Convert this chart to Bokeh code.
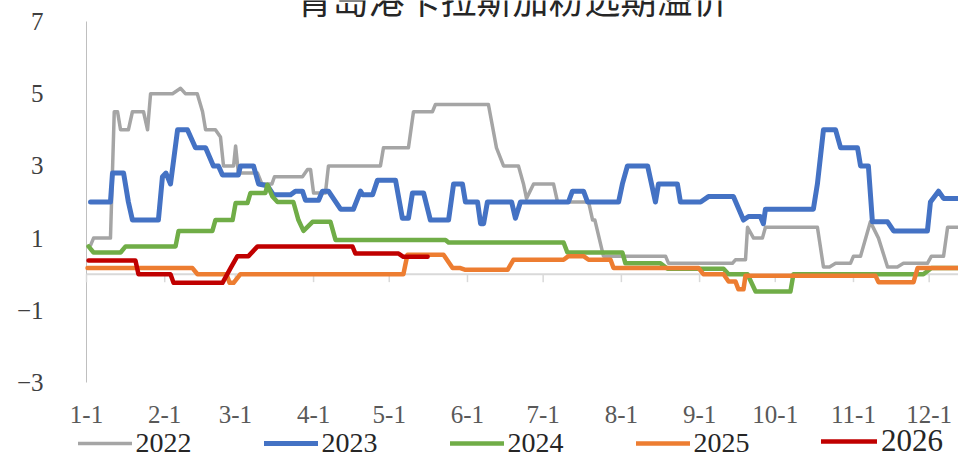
from bokeh.plotting import figure
from bokeh.models import (Range1d, FixedTicker, Legend, LegendItem, Label)
from bokeh.embed import file_html
from bokeh.resources import INLINE

title_text = "青岛港卡拉斯加粉远期溢价"
series_names = ["2022", "2023", "2024", "2025", "2026"]
month_days = [0, 31, 59, 90, 120, 151, 181, 212, 243, 273, 304, 334]
month_labels = ["1-1", "2-1", "3-1", "4-1", "5-1", "6-1", "7-1", "8-1", "9-1", "10-1", "11-1", "12-1"]
y_ticks = [-3, -1, 1, 3, 5, 7]

d22 = [1.6, 2.8, 9.5, 11.0, 12.3, 13.5, 16.6, 18.2, 22.6, 24.2, 25.4, 34.1, 37.3, 39.2, 43.9, 46.0, 47.2, 51.1,
       53.1, 54.3, 58.3, 59.1, 60.2, 67.8, 69.5, 73.5, 74.5, 85.6, 87.6, 88.8, 90.0, 94.7, 95.9, 116.5, 117.7,
       127.6, 129.6, 137.1, 138.3, 159.3, 162.5, 165.3, 171.2, 173.2, 174.4, 177.2, 185.1, 186.7, 199.0, 200.6,
       201.5, 204.9, 229.5, 230.7, 256.0, 257.2, 261.2, 262.0, 264.4, 267.9, 269.1, 289.7, 292.1, 294.5, 296.9,
       302.8, 304.0, 306.8, 310.7, 313.9, 317.5, 321.4, 323.8, 333.3, 334.9, 339.7, 341.3, 345.6]
v22 = [0.8, 1.0, 1.0, 4.5, 4.5, 4.0, 4.0, 4.5, 4.5, 4.0, 5.0, 5.0, 5.15, 5.0, 5.0, 4.5, 4.0, 4.0,
       3.8, 3.0, 3.0, 3.55, 2.8, 2.8, 2.5, 2.5, 2.7, 2.7, 2.9, 2.9, 2.25, 2.25, 3.0, 3.0, 3.5,
       3.5, 4.5, 4.5, 4.7, 4.7, 3.5, 3.0, 3.0, 2.5, 2.1, 2.5, 2.5, 2.0, 2.0, 1.5,
       1.5, 0.5, 0.5, 0.3, 0.3, 0.4, 0.4, 1.3, 1.0, 1.0, 1.3, 1.3, 0.2, 0.2, 0.3,
       0.3, 0.5, 0.5, 1.45, 1.0, 0.2, 0.2, 0.3, 0.3, 0.5, 0.5, 1.3, 1.3]

d23 = [1.6, 9.5, 10.3, 14.7, 16.6, 18.2, 28.5, 30.1, 31.5, 33.3, 36.1, 40.0, 43.2, 47.2, 50.3, 52.3, 53.9, 60.2,
       61.0, 66.2, 68.2, 71.7, 74.1, 80.9, 82.8, 85.6, 86.8, 92.0, 93.5, 95.9, 100.7, 105.8, 108.6, 109.5, 113.4,
       115.3, 122.5, 125.2, 127.6, 129.2, 133.6, 136.3, 143.5, 145.5, 149.0, 150.2, 155.0, 156.2, 157.4, 158.9,
       168.5, 170.0, 172.0, 191.0, 192.6, 197.0, 198.6, 210.9, 212.4, 214.4, 222.4, 225.5, 226.7, 234.2, 235.4,
       243.4, 246.5, 256.4, 260.4, 262.4, 267.1, 268.3, 269.1, 288.1, 289.7, 292.1, 296.9, 298.9, 305.6, 306.8,
       309.9, 311.5, 317.5, 319.9, 333.3, 334.5, 337.7, 339.7, 345.6]
v23 = [2.0, 2.0, 2.8, 2.8, 2.0, 1.5, 1.5, 2.7, 2.8, 2.5, 4.0, 4.0, 3.5, 3.5, 3.0, 3.0, 2.75, 2.75,
       3.0, 3.0, 2.5, 2.45, 2.2, 2.2, 2.3, 2.3, 2.05, 2.05, 2.3, 2.3, 1.8, 1.8, 2.3, 2.2, 2.2,
       2.6, 2.6, 1.55, 1.55, 2.25, 2.25, 1.5, 1.5, 2.5, 2.5, 2.0, 2.0, 1.4, 1.4, 2.0,
       2.0, 1.55, 2.0, 2.0, 2.3, 2.3, 2.0, 2.0, 2.5, 3.0, 3.0, 2.0, 2.5, 2.5, 2.0,
       2.0, 2.15, 2.15, 1.5, 1.6, 1.6, 1.4, 1.8, 1.8, 2.5, 4.0, 4.0, 3.5, 3.5, 3.0,
       3.0, 1.45, 1.45, 1.2, 1.2, 2.0, 2.3, 2.1, 2.1]

d24 = [0.8, 2.8, 13.5, 15.5, 35.3, 36.5, 49.9, 51.1, 57.9, 59.1, 63.8, 65.0, 70.9, 71.7, 73.7, 75.7, 82.0, 84.0,
       86.0, 89.6, 96.7, 98.7, 142.3, 143.5, 189.1, 190.6, 212.4, 213.6, 227.5, 230.3, 252.5, 254.5, 262.0,
       265.2, 279.0, 280.2, 331.7, 334.9, 345.6]
v24 = [0.77, 0.6, 0.6, 0.77, 0.77, 1.2, 1.2, 1.5, 1.5, 1.97, 1.97, 2.25, 2.25, 2.48, 2.15, 2.0, 2.0, 1.5,
       1.2, 1.45, 1.45, 0.95, 0.95, 0.88, 0.88, 0.6, 0.6, 0.3, 0.3, 0.15, 0.15, 0.0, 0.0,
       -0.48, -0.48, 0.0, 0.0, 0.17, 0.17]

d25 = [0.4, 42.0, 44.0, 55.5, 56.7, 58.3, 61.0, 125.6, 127.2, 141.5, 145.1, 148.2, 150.2, 166.9, 169.2, 189.1,
       191.0, 197.0, 199.0, 207.7, 208.9, 242.6, 244.5, 252.5, 254.5, 257.2, 258.4, 260.4, 261.2, 312.7, 313.9,
       327.8, 329.4, 345.6]
v25 = [0.17, 0.17, 0.0, 0.0, -0.24, -0.24, 0.0, 0.0, 0.54, 0.54, 0.17, 0.17, 0.12, 0.12, 0.4, 0.4,
       0.5, 0.5, 0.4, 0.4, 0.17, 0.17, 0.0, 0.0, -0.2, -0.2, -0.42, -0.42, -0.04, -0.04, -0.22,
       -0.22, 0.17, 0.17]

d26 = [0.8, 19.4, 20.6, 33.3, 34.5, 53.9, 57.1, 59.8, 64.2, 67.8, 105.4, 106.6, 123.7, 125.6, 135.2]
v26 = [0.38, 0.38, 0.0, 0.0, -0.24, -0.24, 0.17, 0.5, 0.5, 0.77, 0.77, 0.57, 0.57, 0.48, 0.48]

colors = ["#A5A5A5", "#4472C4", "#70AD47", "#ED7D31", "#C00000"]
widths = [3.5, 5, 4.5, 4.5, 4.5]

# layout constants (pixels)
W, H = 958, 459
X0_PX = 86          # where day 0 sits
PX_PER_DAY = 2.523
ZERO_PX = 273.7     # where value 0 sits (from top)
PX_PER_UNIT = 36.1

x_start = -X0_PX / PX_PER_DAY
x_end = (W - X0_PX) / PX_PER_DAY
y_start = -(H - ZERO_PX) / PX_PER_UNIT
y_end = ZERO_PX / PX_PER_UNIT

p = figure(width=W, height=H, output_backend="svg", toolbar_location=None, title=None,
           x_range=Range1d(x_start, x_end), y_range=Range1d(y_start, y_end),
           min_border=0, min_border_left=0, min_border_right=0, min_border_top=0, min_border_bottom=0)
p.outline_line_color = None
p.grid.visible = False
p.background_fill_color = "white"
p.border_fill_color = "white"

# y axis (drawn at day 0)
yax = p.yaxis[0]
yax.fixed_location = month_days[0]
yax.ticker = FixedTicker(ticks=y_ticks)
yax.major_label_overrides = {t: (str(t).replace("-", "\u2212")) for t in y_ticks}
yax.major_tick_out = 0
yax.major_tick_in = 0
yax.minor_tick_out = 0
yax.minor_tick_in = 0
yax.major_label_standoff = 43
yax.axis_line_color = None
yax.major_label_text_font = "Liberation Serif"
yax.major_label_text_font_size = "25px"
yax.major_label_text_color = "#404040"

# x axis labels (drawn at bottom of value range)
xax = p.xaxis[0]
xax.fixed_location = y_ticks[0]
xax.ticker = FixedTicker(ticks=month_days)
xax.major_label_overrides = dict(zip(month_days, month_labels))
xax.major_tick_out = 0
xax.major_tick_in = 0
xax.minor_tick_out = 0
xax.minor_tick_in = 0
xax.axis_line_color = None
xax.major_label_standoff = 23
xax.major_label_text_font = "Liberation Serif"
xax.major_label_text_font_size = "25px"
xax.major_label_text_color = "#595959"

# vertical axis line from -3 to 7
p.segment(x0=[month_days[0]], y0=[y_ticks[0]], x1=[month_days[0]], y1=[y_ticks[-1]],
          line_color="#BFBFBF", line_width=1)
# zero line with month tick marks
p.segment(x0=[month_days[0]], y0=[0], x1=[x_end], y1=[0], line_color="#D9D9D9", line_width=2)
p.segment(x0=month_days, y0=[0] * len(month_days), x1=month_days, y1=[-0.22] * len(month_days),
          line_color="#D9D9D9", line_width=1.5)

renderers = []
for d, v, c, w in zip([d22, d23, d24, d25, d26], [v22, v23, v24, v25, v26], colors, widths):
    r = p.line(d, v, line_color=c, line_width=w, line_join="round", line_cap="round")
    renderers.append(r)

leg1 = Legend(items=[LegendItem(label=n, renderers=[r]) for n, r in zip(series_names[:4], renderers[:4])],
              orientation="horizontal", location=(77.5, 0), glyph_width=54, glyph_height=32,
              label_height=32, label_standoff=4, spacing=72, padding=0, margin=0,
              border_line_alpha=0, background_fill_alpha=0,
              label_text_font="Liberation Serif", label_text_font_size="28px", label_text_color="#262626")
leg2 = Legend(items=[LegendItem(label=series_names[4], renderers=[renderers[4]])],
              orientation="horizontal", location=(821, 0), glyph_width=56, glyph_height=34,
              label_height=34, label_standoff=4, spacing=0, padding=0, margin=0,
              border_line_alpha=0, background_fill_alpha=0,
              label_text_font="Liberation Serif", label_text_font_size="31px", label_text_color="#262626")
p.add_layout(leg1)
p.add_layout(leg2)

title = Label(x=(512 - X0_PX) / PX_PER_DAY, y=7 - 2.5 / PX_PER_UNIT, x_units="data", y_units="data",
              text=title_text, text_align="center", text_baseline="bottom",
              text_font="Noto Sans CJK SC", text_font_size="36px", text_color="#262626")
p.add_layout(title)

open("out.html", "w").write(file_html(p, INLINE))
